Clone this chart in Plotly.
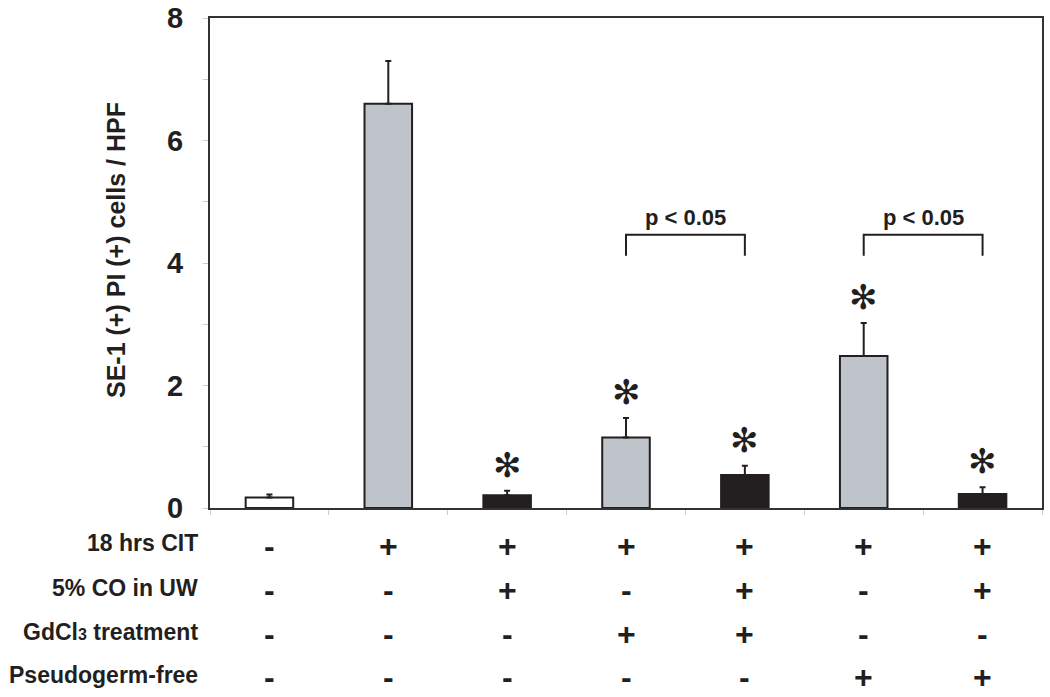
import plotly.graph_objects as go

# ---------------- data ----------------
groups = [0, 1, 2, 3, 4, 5, 6]
values = [0.17, 6.60, 0.21, 1.15, 0.54, 2.48, 0.23]
errors = [0.05, 0.70, 0.07, 0.32, 0.15, 0.54, 0.11]
fill_colors = ["#ffffff", "#bfc3ca", "#231f20", "#bfc3ca", "#231f20", "#bfc3ca", "#231f20"]
significant = [False, False, True, True, True, True, True]

row_labels = ["18 hrs CIT", "5% CO in UW",
              'GdCl<span style="font-size:16px">3</span> treatment', "Pseudogerm-free"]
row_signs = [
    ["-", "+", "+", "+", "+", "+", "+"],
    ["-", "-", "+", "-", "+", "-", "+"],
    ["-", "-", "-", "+", "+", "-", "-"],
    ["-", "-", "-", "-", "-", "+", "+"],
]
comparisons = [(3, 4, "p < 0.05"), (5, 6, "p < 0.05")]
bracket_low, bracket_high, bracket_text_y = 4.12, 4.46, 4.75

y_ticks = [0, 2, 4, 6, 8]
y_title = "SE-1 (+) PI (+) cells / HPF"

# ---------------- layout constants ----------------
FONT = "Liberation Sans, Arial, sans-serif"
INK = "#231f20"
W, H = 1050, 697
ML, MR, MT, MB = 210, 8, 18, 189
plot_h = H - MT - MB
plot_w = W - ML - MR

def py(pix):
    """pixel row -> paper y"""
    return (H - MB - pix) / plot_h

def px(pix):
    return (pix - ML) / plot_w

fig = go.Figure()
fig.add_trace(go.Bar(
    x=groups, y=values, width=0.4,
    marker=dict(color=fill_colors, line=dict(color=INK, width=2)),
    error_y=dict(type="data", array=errors, arrayminus=[0] * len(errors),
                 symmetric=False, color=INK, thickness=2, width=3),
    hoverinfo="skip",
))

annotations = []
# asterisks
for g, v, e, s in zip(groups, values, errors, significant):
    if s:
        annotations.append(dict(
            x=g, y=v + e, xref="x", yref="y", text="✻", showarrow=False,
            yanchor="middle", yshift=26,
            font=dict(family="DejaVu Sans", size=34, color=INK)))

# brackets
shapes = []
for a, b, label in comparisons:
    shapes.append(dict(
        type="path", xref="x", yref="y",
        path=f"M {a},{bracket_low} L {a},{bracket_high} L {b},{bracket_high} L {b},{bracket_low}",
        line=dict(color=INK, width=2)))
    annotations.append(dict(
        x=(a + b) / 2, y=bracket_text_y, xref="x", yref="y", text=f"<b>{label}</b>",
        showarrow=False, yanchor="middle",
        font=dict(family=FONT, size=22, color=INK)))

# condition table
label_rows = [543, 588, 632, 675]
sign_rows = [546, 590, 634, 677]
for r, (lab, signs) in enumerate(zip(row_labels, row_signs)):
    annotations.append(dict(
        x=px(200), y=py(label_rows[r]), xref="paper", yref="paper",
        text=f"<b>{lab}</b>", showarrow=False, xanchor="right", yanchor="middle",
        font=dict(family=FONT, size=23, color=INK)))
    for g, sgn in zip(groups, signs):
        annotations.append(dict(
            x=g, y=py(sign_rows[r]), xref="x", yref="paper",
            text=f"<b>{sgn}</b>", showarrow=False, xanchor="center", yanchor="middle",
            font=dict(family=FONT, size=32, color=INK)))

# y-axis title
annotations.append(dict(
    x=px(116), y=py(250), xref="paper", yref="paper", text=f"<b>{y_title}</b>",
    textangle=-90, showarrow=False, xanchor="center", yanchor="middle",
    font=dict(family=FONT, size=25, color=INK)))

fig.update_layout(
    width=W, height=H,
    margin=dict(l=ML, r=MR, t=MT, b=MB, autoexpand=False),
    paper_bgcolor="white", plot_bgcolor="white",
    showlegend=False,
    shapes=shapes, annotations=annotations,
)
fig.update_xaxes(
    range=[-0.5, 6.5], showgrid=False, zeroline=False, automargin=False,
    showline=True, linecolor="#333333", linewidth=2, mirror=True,
    tickvals=[g - 0.5 for g in groups] + [6.5], ticktext=[""] * 8,
    ticks="outside", ticklen=5, tickcolor="#cccccc", tickwidth=1,
)
fig.update_yaxes(
    range=[0, 8], showgrid=False, zeroline=False, automargin=False,
    showline=True, linecolor="#333333", linewidth=2, mirror=True,
    tickvals=y_ticks, ticktext=[f"<b>{t}</b>" for t in y_ticks],
    ticks="outside", ticklen=5, tickcolor="#cccccc", tickwidth=1,
    minor=dict(dtick=1, ticks="outside", ticklen=5, tickcolor="#cccccc"),
    tickfont=dict(family=FONT, size=29, color=INK),
    ticklabelstandoff=14,
)

fig.write_html("out.html", config={"displayModeBar": False},
               post_script="document.body.style.margin='0';document.body.style.overflow='hidden';")
